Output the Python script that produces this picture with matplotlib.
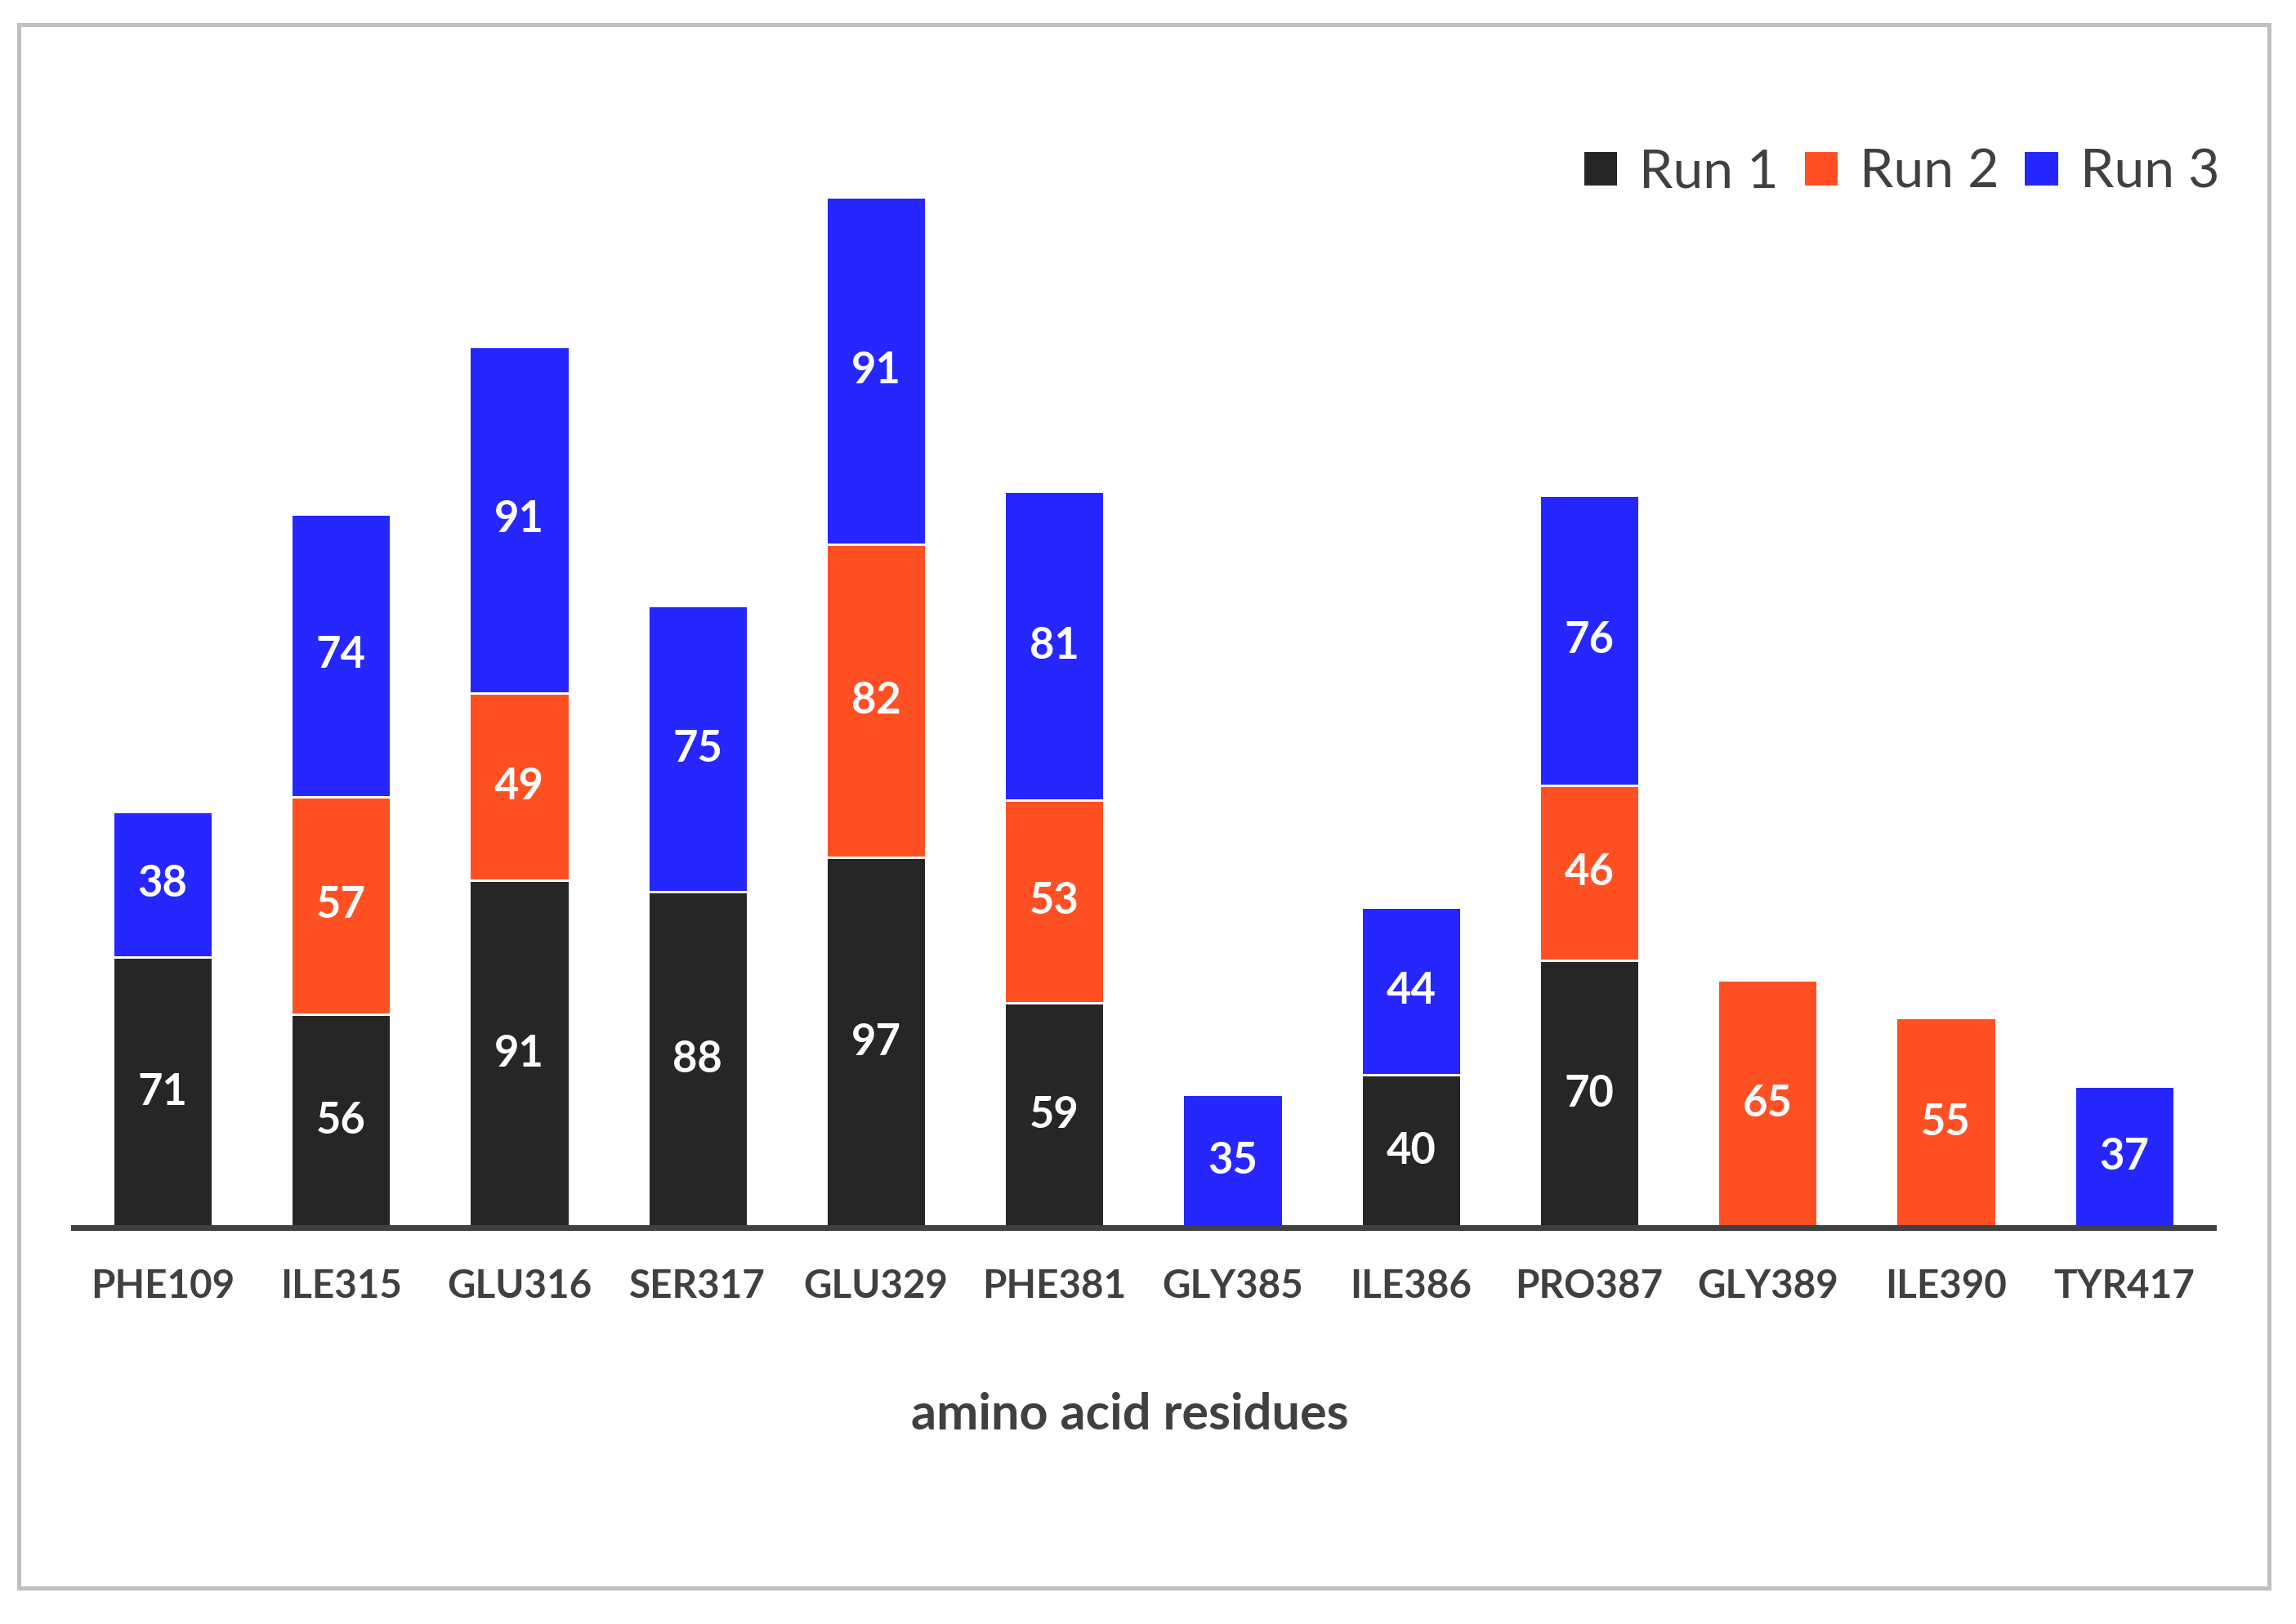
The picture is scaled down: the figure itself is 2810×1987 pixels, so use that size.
import numpy as np
import matplotlib
matplotlib.use('Agg')
import matplotlib.pyplot as plt
from matplotlib.patches import Rectangle

plt.rcParams['font.family'] = ['Lato', 'DejaVu Sans']

residues = ['PHE109', 'ILE315', 'GLU316', 'SER317', 'GLU329', 'PHE381',
            'GLY385', 'ILE386', 'PRO387', 'GLY389', 'ILE390', 'TYR417']
run1 = [71, 56, 91, 88, 97, 59, 0, 40, 70, 0, 0, 0]
run2 = [0, 57, 49, 0, 82, 53, 0, 0, 46, 65, 55, 0]
run3 = [38, 74, 91, 75, 91, 81, 35, 44, 76, 0, 0, 37]

colors = ['#262626', '#FF5024', '#2626FF']
names = ['Run 1', 'Run 2', 'Run 3']

fig = plt.figure(figsize=(2810 / 180, 1987 / 180), dpi=180)
ax = fig.add_axes([0.032, 0.244, 0.932, 0.658])

x = np.arange(len(residues))
bottom = np.zeros(len(residues))
for vals, c, n in zip([run1, run2, run3], colors, names):
    vals = np.array(vals)
    bars = ax.bar(x, vals, 0.56, bottom=bottom, color=c, label=n,
                  edgecolor='white', linewidth=1.2)
    ax.bar_label(bars, labels=['' if v == 0 else str(v) for v in vals],
                 label_type='center', color='white', fontsize=21, fontweight='bold')
    bottom += vals

ax.set_xlim(-0.5, 11.5)
ax.set_ylim(0, 280)
ax.set_xticks(x)
ax.set_xticklabels(residues, fontsize=19, fontweight='bold', color='#404040')
ax.tick_params(axis='x', length=0, pad=20)
ax.set_yticks([])
for s in ['top', 'right', 'left']:
    ax.spines[s].set_visible(False)
ax.spines['bottom'].set_color('#404040')
ax.spines['bottom'].set_linewidth(2.8)

fig.text(0.492, 0.129, 'amino acid residues', ha='center', va='center',
         fontsize=24.5, fontweight='bold', color='#404040')

ax.legend(loc='center right', bbox_to_anchor=(0.988, 0.894),
          bbox_transform=fig.transFigure, ncol=3, frameon=False,
          fontsize=26.5, handlelength=0.65, handleheight=0.65,
          columnspacing=0.45, handletextpad=0.4, labelcolor='#404040')

fig.patches.append(Rectangle((23 / 2810, 1 - 1943 / 1987), (2777 - 23) / 2810,
                             (1943 - 30) / 1987, transform=fig.transFigure,
                             fill=False, edgecolor='#C0C0C0', linewidth=2))

fig.savefig('out.png', dpi=180)
